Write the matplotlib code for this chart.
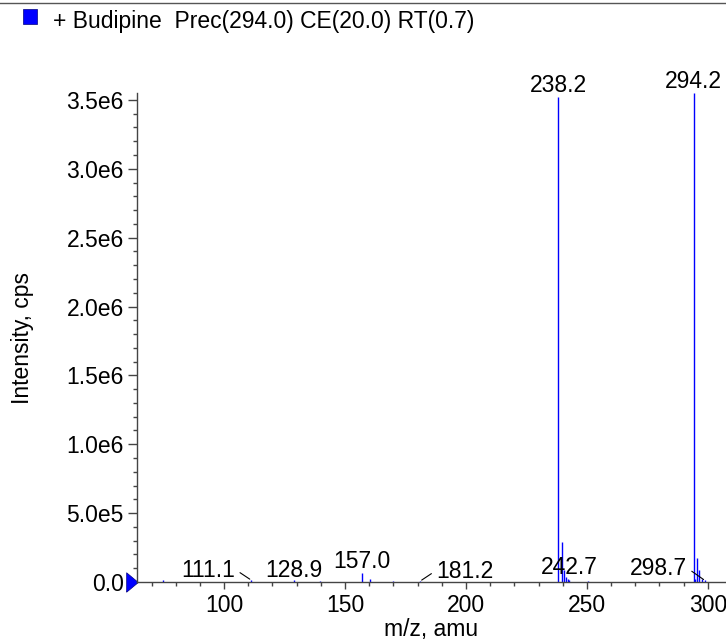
import matplotlib
matplotlib.use("Agg")
from matplotlib import pyplot as plt
from matplotlib.patches import Rectangle
from matplotlib.lines import Line2D
from matplotlib.ticker import MultipleLocator, FormatStrFormatter, FuncFormatter
import matplotlib.transforms as mtransforms

plt.rcParams['font.family'] = ['Liberation Sans', 'DejaVu Sans']

# spectrum: m/z and intensity (cps)
mz = [74.8, 111.1, 128.9, 139.7, 157.0, 160.3, 169.8, 181.2,
      238.2, 239.8, 240.5, 241.2, 242.0, 242.7, 250.4,
      294.2, 294.8, 295.6, 296.4, 297.5, 298.7]
intensity = [1.2e4, 1.5e4, 1.8e4, 1.0e4, 6.5e4, 2.0e4, 1.0e4, 8e3,
             3.52e6, 2.9e5, 8.5e4, 3.5e4, 2.0e4, 1.5e4, 1.0e4,
             3.55e6, 2.5e4, 1.75e5, 8.5e4, 2.5e4, 1.2e4]

# labelled peaks
label_mz = [111.1, 128.9, 157.0, 181.2, 238.2, 242.7, 294.2, 298.7]
title = "+ Budipine  Prec(294.0) CE(20.0) RT(0.7)"

# label placement (pixels from peak top), alignment, leader line
label_pos = {
    111.1: (-16, 3, 'right', True),
    128.9: (0, 2.5, 'center', False),
    157.0: (0, 5, 'center', False),
    181.2: (16, 3, 'left', True),
    238.2: (0, 5, 'center', False),
    242.7: (0, 6, 'center', False),
    294.2: (0, 5, 'center', False),
    298.7: (-18, 5, 'right', True),
}

FS = 16.5
W, H = 726, 640
fig = plt.figure(figsize=(W / 100, H / 100), dpi=100)
ax_h = 582 - 93
ax = fig.add_axes([137 / W, (H - 582) / H, 1 - 137 / W, ax_h / H])

ax.vlines(mz, 0, intensity, color='#0000ff', lw=1)
ax.set_xlim(64, 307.5)
ax.set_ylim(0, 3.55e6)

ax.spines['top'].set_visible(False)
ax.spines['right'].set_visible(False)
for s in ['left', 'bottom']:
    ax.spines[s].set_color('#444444')
    ax.spines[s].set_linewidth(1)

ax.xaxis.set_major_locator(MultipleLocator(50))
ax.xaxis.set_minor_locator(MultipleLocator(10))
ax.yaxis.set_major_locator(MultipleLocator(5e5))
ax.yaxis.set_minor_locator(MultipleLocator(1e5))


def yfmt(v, pos):
    if v == 0:
        return "0.0"
    e = int(len(str(int(round(v)))) - 1)
    return "%.1fe%d" % (v / 10 ** e, e)


ax.yaxis.set_major_formatter(FuncFormatter(yfmt))
ax.xaxis.set_major_formatter(FormatStrFormatter('%d'))

ax.tick_params(axis='x', which='major', direction='out', length=5, width=1,
               color='#444444', labelsize=FS, pad=4)
ax.tick_params(axis='x', which='minor', direction='out', length=3, width=1,
               color='#444444')
ax.tick_params(axis='y', which='major', direction='out', length=6.5, width=1,
               color='#444444', labelsize=FS, pad=3)
ax.tick_params(axis='y', which='minor', direction='out', length=3, width=1,
               color='#444444')

ax.set_xlabel("m/z, amu", fontsize=FS, va='baseline')
ax.xaxis.set_label_coords(0.5, (582 - 636) / ax_h)
ax.set_ylabel("Intensity, cps", fontsize=FS, va='center')
ax.yaxis.set_label_coords((23 - 137) / (W - 137), 0.5)

for m in label_mz:
    i = mz.index(m)
    dx, dy, ha, leader = label_pos[m]
    txt = "%.1f" % m
    if leader:
        relx = 1.0 if ha == 'right' else 0.0
        ax.annotate(txt, xy=(m, intensity[i]), xytext=(dx, dy),
                    textcoords='offset pixels', ha=ha, va='baseline',
                    fontsize=FS,
                    arrowprops=dict(arrowstyle='-', lw=0.8, color='black',
                                    shrinkA=2, shrinkB=1,
                                    relpos=(relx, 0.55)))
    else:
        ax.annotate(txt, xy=(m, intensity[i]), xytext=(dx, dy),
                    textcoords='offset pixels', ha=ha, va='baseline',
                    fontsize=FS)

# blue marker at zero on the y axis (narrow right-pointing triangle)
tri = [(-0.6, -1), (0.6, 0), (-0.6, 1), (-0.6, -1)]
off = mtransforms.ScaledTranslation(-5 / 100, 0, fig.dpi_scale_trans)
ax.plot([0], [0], marker=tri, color='#0000ff', markersize=14,
        markeredgewidth=0.5, markeredgecolor='#000080',
        transform=ax.get_yaxis_transform() + off, clip_on=False)

# header
fig.add_artist(Line2D([0, 1], [1 - 2.5 / H, 1 - 2.5 / H], color='#555555',
                      lw=1, transform=fig.transFigure))
fig.add_artist(Rectangle((23 / W, 1 - 24 / H), 14 / W, 15 / H,
                         facecolor='#0000ff', edgecolor='#000080', lw=0.5,
                         transform=fig.transFigure))
fig.text(53 / W, 1 - 28 / H, title, fontsize=FS, ha='left', va='baseline')

fig.savefig("out.png", dpi=100)
